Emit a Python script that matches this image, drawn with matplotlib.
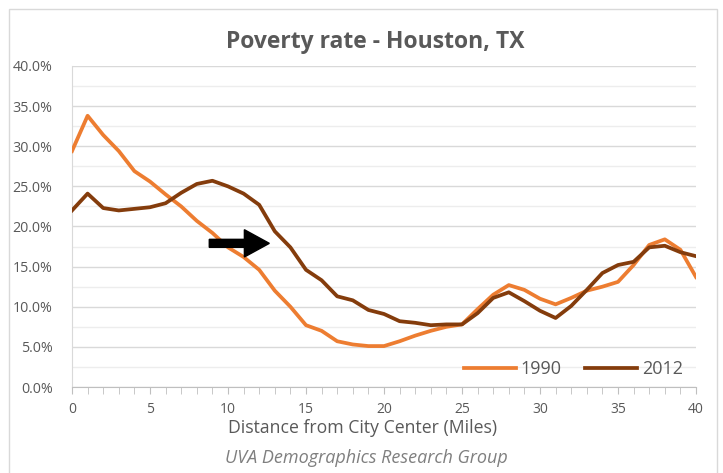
import matplotlib
matplotlib.use("Agg")
import matplotlib.pyplot as plt
from matplotlib.patches import FancyArrow, Rectangle
from matplotlib.ticker import MultipleLocator, FuncFormatter

plt.rcParams['font.family'] = ['Open Sans', 'DejaVu Sans']

distance = list(range(0, 41))
rate_1990 = [29.4, 33.8, 31.4, 29.4, 26.9, 25.6, 24.0, 22.5, 20.7, 19.2,
             17.4, 16.2, 14.6, 12.0, 10.0, 7.7, 7.0, 5.7, 5.3, 5.1,
             5.1, 5.7, 6.4, 7.0, 7.5, 7.8, 9.7, 11.5, 12.7, 12.1,
             11.0, 10.3, 11.1, 12.0, 12.5, 13.1, 15.2, 17.7, 18.4, 17.1,
             13.7]
rate_2012 = [22.0, 24.1, 22.3, 22.0, 22.2, 22.4, 22.9, 24.2, 25.3, 25.7,
             25.0, 24.1, 22.7, 19.4, 17.4, 14.6, 13.3, 11.3, 10.8, 9.6,
             9.1, 8.2, 8.0, 7.7, 7.8, 7.8, 9.2, 11.1, 11.8, 10.7,
             9.5, 8.6, 10.1, 12.1, 14.2, 15.2, 15.6, 17.4, 17.6, 16.8,
             16.3]
series_labels = ["1990", "2012"]
title = "Poverty rate - Houston, TX"
x_label = "Distance from City Center (Miles)"
footer = "UVA Demographics Research Group"

TXT = "#595959"
fig = plt.figure(figsize=(7.23, 4.73), dpi=100)
W, H = 723, 473
# chart border
fig.patches.append(Rectangle((9 / W, -0.05), (717 - 9) / W, 1 - 9 / H + 0.05,
                             transform=fig.transFigure, fill=False,
                             edgecolor="#D9D9D9", linewidth=1.0))

ax = fig.add_axes([72 / W, 1 - 387 / H, (696 - 72) / W, (387 - 66) / H])
ax.plot(distance, rate_1990, color="#ED7D31", linewidth=2.7, label=series_labels[0],
        solid_joinstyle="round", zorder=3)
ax.plot(distance, rate_2012, color="#843C0C", linewidth=2.7, label=series_labels[1],
        solid_joinstyle="round", zorder=3)

ax.set_xlim(0, 40)
ax.set_ylim(0, 40)
ax.xaxis.set_major_locator(MultipleLocator(5))
ax.xaxis.set_minor_locator(MultipleLocator(1))
ax.yaxis.set_major_locator(MultipleLocator(5))
ax.yaxis.set_minor_locator(MultipleLocator(2.5))
ax.yaxis.set_major_formatter(FuncFormatter(lambda v, p: f"{v:.1f}%"))

ax.grid(axis="y", which="major", color="#D9D9D9", linewidth=1.0, zorder=0)
ax.grid(axis="y", which="minor", color="#EDEDED", linewidth=1.0, zorder=0)
ax.set_axisbelow(True)

for s in ["top", "right"]:
    ax.spines[s].set_visible(False)
ax.spines["left"].set_color("#D9D9D9")
ax.spines["bottom"].set_color("#BFBFBF")
ax.tick_params(axis="x", which="both", direction="out", length=5, color="#BFBFBF",
               labelsize=10, labelcolor=TXT, pad=6)
ax.tick_params(axis="y", which="both", length=0, labelsize=10.3, labelcolor=TXT, pad=14)

fig.text(363 / W, 1 - 428 / H, x_label, ha="center", va="center",
         fontsize=12.7, color=TXT)
fig.text(375 / W, 1 - 42 / H, title, ha="center", va="center",
         fontsize=16.5, fontweight="bold", color=TXT)
fig.text(366 / W, 1 - 458 / H, footer, ha="center", va="center", fontsize=13,
         style="italic", color="#7F7F7F")

# arrow annotation
arr = FancyArrow(8.8, 17.9, 3.85, 0, width=1.0, head_width=3.4, head_length=1.6,
                 length_includes_head=True, color="black", zorder=4)
ax.add_patch(arr)

leg = ax.legend(loc="center right", ncol=2, frameon=False, fontsize=13,
                handlelength=2.9, handletextpad=0.25, columnspacing=1.3,
                borderpad=0, borderaxespad=0,
                bbox_to_anchor=(0.979, 0.056), labelcolor=TXT)

fig.savefig("out.png", dpi=100)
